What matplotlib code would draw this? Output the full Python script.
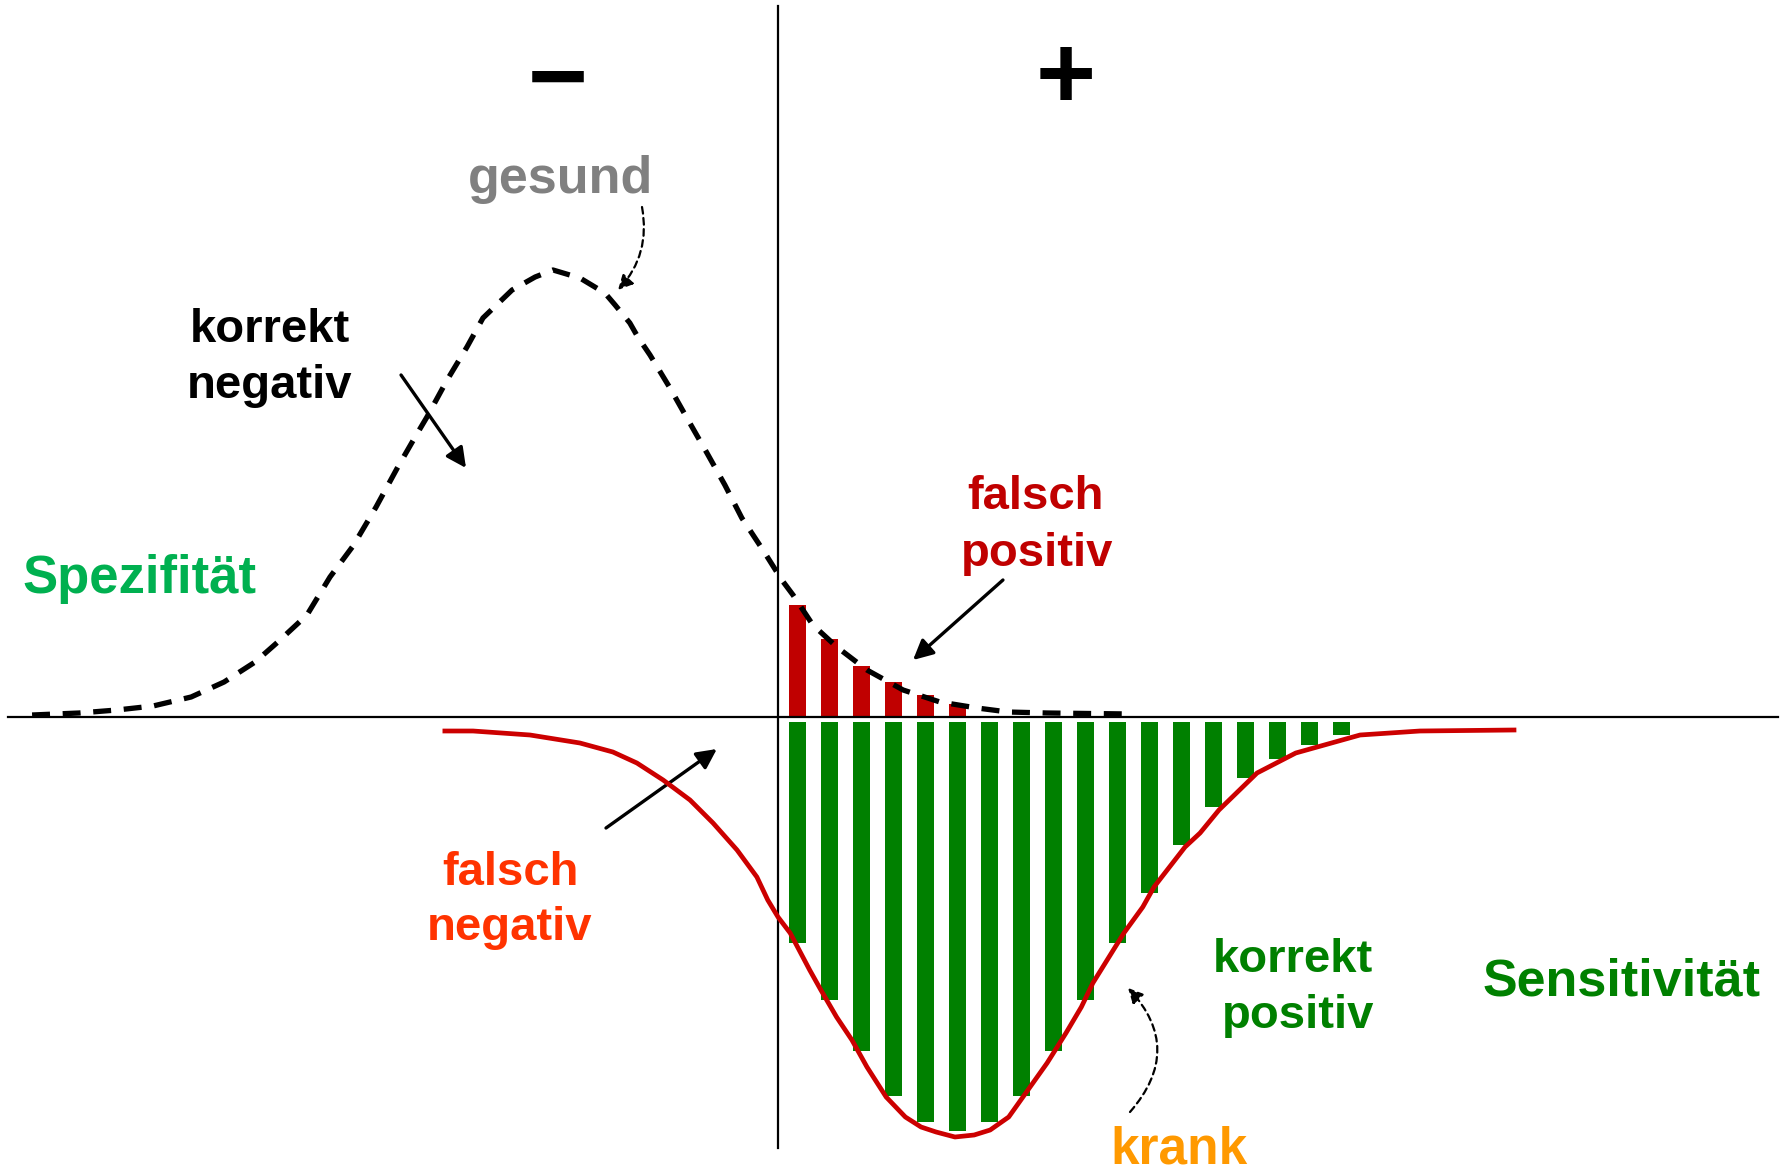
import numpy as np
import matplotlib.pyplot as plt

plt.rcParams['font.family'] = ['Liberation Sans', 'DejaVu Sans']
plt.rcParams['font.weight'] = 'bold'

# test value axis: 0 = cut-off, 1 unit = one bar slot
# frequency axis: positive = gesund, negative = krank

# gesund (healthy) distribution, dashed
gesund_x = [-23.31, -21.84, -20.66, -19.53, -18.34, -17.31, -16.34, -15.63, -14.72,
            -14.0, -13.28, -12.56, -11.88, -11.34, -10.97, -10.34, -9.72, -9.22,
            -8.31, -7.59, -7.03, -6.19, -5.41, -5.09, -4.63, -4.38, -4.0, -3.375,
            -2.81, -2.22, -1.66, -1.13, -0.47, 0.12, 0.47, 1.09, 1.84, 2.78, 3.91,
            5.06, 6.22, 7.19, 8.41, 11.06]
gesund_y = [0.02, 0.04, 0.07, 0.11, 0.20, 0.35, 0.55, 0.75, 1.02,
            1.40, 1.71, 2.10, 2.50, 2.80, 3.00, 3.37, 3.70, 3.99,
            4.27, 4.40, 4.47, 4.39, 4.24, 4.12, 3.94, 3.80, 3.62, 3.29,
            2.97, 2.64, 2.32, 1.99, 1.67, 1.37, 1.22, 0.92, 0.70, 0.47, 0.27,
            0.15, 0.09, 0.05, 0.04, 0.03]

# krank (diseased) distribution, solid red
krank_x = [-10.41, -9.53, -7.75, -6.19, -5.16, -4.41, -3.59, -2.75, -2.03, -1.28,
           -0.66, -0.32, 0.0, 0.38, 0.99, 1.34, 1.83, 2.31, 2.78, 3.38, 3.98, 4.47,
           4.94, 5.53, 6.13, 6.63, 7.21, 7.81, 8.41, 9.0, 9.48, 9.84, 10.81, 11.40,
           11.75, 12.72, 13.19, 13.78, 14.97, 16.18, 18.19, 20.06, 23.0]
krank_y = [-0.14, -0.14, -0.18, -0.26, -0.35, -0.46, -0.63, -0.83, -1.06, -1.33,
           -1.60, -1.83, -2.00, -2.16, -2.53, -2.73, -3.00, -3.23, -3.50, -3.80, -4.00, -4.10,
           -4.15, -4.20, -4.18, -4.13, -4.00, -3.73, -3.46, -3.16, -2.90, -2.66, -2.16, -1.90,
           -1.70, -1.30, -1.16, -0.93, -0.56, -0.36, -0.18, -0.14, -0.13]

# bars right of the cut-off
falsch_pos = [1.12, 0.78, 0.51, 0.35, 0.22, 0.13]
korrekt_pos = [-2.26, -2.83, -3.34, -3.79, -4.05, -4.14, -4.05, -3.79, -3.34,
               -2.83, -2.26, -1.76, -1.28, -0.90, -0.61, -0.42, -0.28, -0.18]
bar_x = np.arange(len(korrekt_pos)) + 0.6

fig = plt.figure(figsize=(17.85, 11.71), dpi=100)
ax = fig.add_axes([0, 0, 1, 1])
ax.set_xlim(-24.3125, 31.469)
ax.set_ylim(-4.54, 7.17)
ax.axis('off')

# axes cross
ax.plot([-24.06, 31.25], [0, 0], color='black', lw=1.6, zorder=3)
ax.plot([0, 0], [7.11, -4.31], color='black', lw=1.6, zorder=3)

gap = 0.05
ax.bar(bar_x[:len(falsch_pos)], falsch_pos, width=0.53, color='#C00000', zorder=2)
ax.bar(bar_x, np.array(korrekt_pos) + gap, bottom=-gap, width=0.53,
       color='#008000', zorder=2)

ax.plot(gesund_x, gesund_y, color='black', lw=3.8, ls=(0, (3.4, 2.4)), zorder=4,
        solid_joinstyle='round')
ax.plot(krank_x, krank_y, color='#CC0000', lw=3.4, zorder=4, solid_joinstyle='round')

# labels
ax.text(-6.875, 6.33, '\u2212', fontsize=74, ha='center', va='center')
ax.text(9.0, 6.36, '+', fontsize=74, ha='center', va='center')
ax.text(-6.81, 5.24, 'gesund', fontsize=37.5, color='#808080', ha='center', va='baseline')
ax.text(-15.875, 3.75, 'korrekt', fontsize=34, color='black', ha='center', va='baseline')
ax.text(-15.875, 3.19, 'negativ', fontsize=34, color='black', ha='center', va='baseline')
ax.text(-19.97, 1.24, 'Spezifität', fontsize=38, color='#00B050', ha='center', va='baseline')
ax.text(8.06, 2.08, 'falsch', fontsize=34, color='#C00000', ha='center', va='baseline')
ax.text(8.1, 1.51, 'positiv', fontsize=34, color='#C00000', ha='center', va='baseline')
ax.text(-8.375, -1.68, 'falsch', fontsize=34, color='#FF3300', ha='center', va='baseline')
ax.text(-8.375, -2.23, 'negativ', fontsize=34, color='#FF3300', ha='center', va='baseline')
ax.text(16.09, -2.55, 'korrekt', fontsize=34, color='#008000', ha='center', va='baseline')
ax.text(16.25, -3.11, 'positiv', fontsize=34, color='#008000', ha='center', va='baseline')
ax.text(26.375, -2.78, 'Sensitivität', fontsize=37.5, color='#008000', ha='center', va='baseline')
ax.text(12.53, -4.46, 'krank', fontsize=37, color='#FF9900', ha='center', va='baseline')

# arrows
solid = dict(arrowstyle='-|>', color='black', lw=2.4, mutation_scale=30, shrinkA=0, shrinkB=0)
ax.annotate('', xy=(-9.75, 2.49), xytext=(-11.78, 3.42), arrowprops=solid)
ax.annotate('', xy=(4.22, 0.57), xytext=(7.03, 1.37), arrowprops=solid)
ax.annotate('', xy=(-1.91, -0.32), xytext=(-5.375, -1.11), arrowprops=solid)

dashed = dict(arrowstyle='-|>', color='black', lw=1.6, ls=(0, (3, 2)), mutation_scale=22,
              shrinkA=0, shrinkB=0)
ax.annotate('', xy=(-5.0, 4.27), xytext=(-4.25, 5.10),
            arrowprops=dict(dashed, connectionstyle='arc3,rad=-0.25'))
ax.annotate('', xy=(10.94, -2.71), xytext=(11.0, -3.95),
            arrowprops=dict(dashed, connectionstyle='arc3,rad=0.45'))

fig.savefig('out.png', dpi=100)
